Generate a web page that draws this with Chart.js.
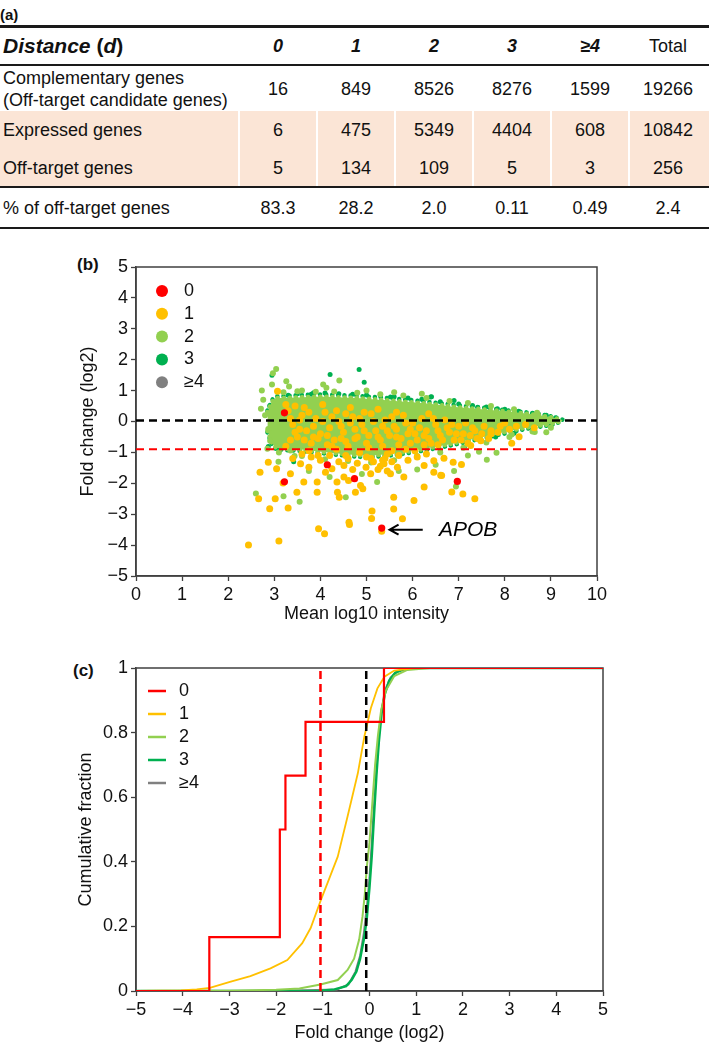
<!DOCTYPE html>
<html>
<head>
<meta charset="utf-8">
<script src="https://cdn.jsdelivr.net/npm/chart.js@4.4.0/dist/chart.umd.min.js"></script>
<style>
  body { margin: 0; background: #fff; font-family: "Liberation Sans", Arial, sans-serif; color: #111; }
  #page { position: relative; width: 709px; height: 1044px; overflow: hidden; }
  .t { position: absolute; white-space: nowrap; font-size: 18px; line-height: 22px; }
  .c { transform: translate(-50%, -50%); }
  .l { transform: translateY(-50%); }
  .hl { position: absolute; left: 0; width: 709px; background: #1a1a1a; }
  .panel { position: absolute; font-weight: bold; font-size: 17px; transform: translateY(-50%); }
  canvas { position: absolute; left: 0; }
</style>
</head>
<body>
<div id="page">
  <div class="panel" style="left:0;top:14px;font-size:15px">(a)</div>
  <div class="panel" style="left:77px;top:265px">(b)</div>
  <div class="panel" style="left:73px;top:671px">(c)</div>
  <canvas id="maPlot" width="709" height="390" style="top:240px"></canvas>
  <canvas id="cdfPlot" width="709" height="404" style="top:640px"></canvas>
</div>
<script>
// ---- table (a) ----
const distLabels = ['0', '1', '2', '3', '≥4', 'Total'];
const complementaryGenes = [16, 849, 8526, 8276, 1599, 19266];
const expressedGenes = [6, 475, 5349, 4404, 608, 10842];
const offTargetGenes = [5, 134, 109, 5, 3, 256];
const offTargetPercent = ['83.3', '28.2', '2.0', '0.11', '0.49', '2.4'];

// ---- scatter (b): [mean log10 intensity, log2 fold change] ----
const seriesNames = ['0', '1', '2', '3', '≥4'];
const seriesColors = ['#ff0000', '#ffc000', '#92d050', '#00b050', '#808080'];

const d0Points = [[3.22, 0.28], [3.22, -1.95], [4.15, -1.4], [4.74, -1.85], [5.33, -3.45], [6.97, -1.94]];

const d1Points = [
  [2.44, -4.0], [3.1, -3.87], [3.96, -3.47], [4.09, -3.63], [4.62, -3.26], [4.63, -3.33], [5.12, -2.9], [5.11, -3.14],
  [5.33, -3.55], [5.59, -2.83], [5.78, -3.15], [2.66, -2.5], [2.9, -2.82], [3.02, -2.5], [3.3, -2.8], [3.49, -2.29],
  [3.93, -2.29], [4.37, -2.29], [4.41, -2.45], [4.76, -2.29], [4.92, -2.18], [5.59, -2.45], [6.03, -2.56],
  [2.69, -1.64], [2.87, -1.32], [3.19, -1.99], [3.64, -1.96], [3.93, -1.96], [4.51, -1.8], [4.11, -1.64], [4.36, -1.96],
  [4.61, -1.91], [4.87, -2.07], [5.09, -1.69], [5.52, -1.69], [5.81, -1.8], [6.25, -2.12], [6.61, -1.74],
  [3.05, -1.53], [3.35, -1.69], [3.57, -1.37], [3.75, -1.48], [4.25, -1.53], [4.51, -1.42], [4.99, -1.48], [5.38, -1.37],
  [5.67, -1.48], [6.25, -1.42], [6.46, -1.64], [7.35, -2.5], [6.85, -2.28], [7.09, -2.35], [6.63, -1.75], [7.06, -1.39],
  [6.88, -1.32], [7.26, -0.78], [7.48, -0.62], [8.15, -0.7], [8.31, -0.49], [7.7, -0.4], [8.64, -0.2], [6.46, -1.27], [6.68, -1.19],
  [3.8, -1.15], [4.0, -1.25], [4.2, -1.1], [4.4, -1.3], [4.6, -1.2], [4.8, -1.35], [5.0, -1.15], [5.15, -1.3], [5.3, -1.45],
  [5.4, -1.2], [5.55, -1.3], [5.7, -1.1], [5.9, -1.25], [6.1, -1.15], [6.3, -1.05], [5.25, -1.55], [4.7, -1.55], [5.45, -1.6],
  [3.6, -1.05], [3.4, -1.2], [3.07, 0.98], [3.25, 0.55],
  [3.3, 0.35], [3.4, -0.1], [3.5, -0.5], [3.6, 0.2], [3.7, -0.3], [3.8, -0.7], [3.9, 0.1], [4.0, -0.4], [4.1, 0.3], [4.2, -0.2],
  [4.3, -0.6], [4.4, 0.0], [4.5, -0.35], [4.6, -0.8], [4.7, 0.15], [4.8, -0.5], [4.9, -0.1], [5.0, -0.7], [5.1, 0.25], [5.2, -0.3],
  [5.3, -0.6], [5.4, 0.05], [5.5, -0.45], [5.6, -0.15], [5.7, -0.75], [5.8, 0.2], [5.9, -0.4], [6.0, -0.05], [6.1, -0.6], [6.2, 0.1],
  [6.3, -0.3], [6.4, -0.7], [6.5, -0.1], [6.6, -0.45], [6.7, 0.05], [6.8, -0.35], [6.9, -0.6], [7.0, -0.15], [7.1, -0.4], [7.2, -0.7],
  [7.3, -0.2], [7.5, -0.4], [7.7, -0.3], [7.9, -0.15], [8.1, -0.25], [3.25, -0.8], [3.45, 0.5], [4.05, 0.55], [4.65, 0.45], [5.25, 0.4],
  [5.85, -0.9], [4.35, -0.9], [4.85, -1.0], [5.45, -1.05], [6.05, -0.95], [3.75, -0.95], [5.1, -1.2], [5.35, -1.25], [5.55, -0.95],
  [4.55, -1.1], [3.95, -1.1], [3.55, -0.25], [3.85, -0.5], [4.15, -0.75], [4.45, -0.55], [4.75, -0.25], [5.05, -0.45], [5.35, -0.15],
  [5.65, -0.5], [5.95, -0.7], [6.25, -0.45], [6.55, -0.75], [6.85, -0.1], [4.25, 0.15], [4.95, 0.3], [5.65, 0.3], [6.35, 0.25],
  [3.65, 0.45], [4.55, 0.25], [3.35, -0.6], [7.4, -0.55],
  [3.35, 0.1], [3.45, -0.35], [3.55, 0.05], [3.65, -0.6], [3.75, 0.3], [3.85, -0.15], [3.95, -0.55], [4.05, 0.0], [4.15, -0.45],
  [4.25, -0.8], [4.35, 0.35], [4.45, -0.15], [4.55, -0.65], [4.65, -0.05], [4.75, -0.55], [4.85, 0.1], [4.95, -0.3], [5.05, -0.85],
  [5.15, 0.0], [5.25, -0.5], [5.35, -0.8], [5.45, -0.3], [5.55, 0.15], [5.65, -0.25], [5.75, -0.55], [5.85, -0.05], [5.95, -0.25],
  [6.05, -0.4], [6.15, -0.2], [6.25, -0.75], [6.35, -0.55], [6.45, 0.1], [6.55, -0.3], [6.65, -0.6], [6.75, -0.2], [6.95, -0.4],
  [7.05, -0.6], [7.15, -0.05], [7.25, -0.45], [7.35, -0.3], [7.55, -0.15], [7.65, -0.55], [7.85, -0.35], [8.0, -0.05], [8.25, -0.15], [8.45, -0.1]
];

const d2Points = [
  [3.04, 1.7], [2.97, 1.56], [2.73, 1.0], [3.26, 1.3], [3.32, 1.13], [4.06, 1.2], [4.13, 1.09], [4.41, 1.33], [2.71, 0.41],
  [2.8, 0.2], [2.87, -0.24], [2.91, -0.62], [2.85, -0.88], [2.6, -2.33], [3.2, -2.42], [3.44, -1.12], [3.35, -0.94],
  [5.23, -1.96], [3.09, -1.3], [7.61, -1.24], [7.44, -0.98], [7.82, -1.01], [8.15, -0.42], [8.65, -0.34], [6.5, -1.4],
  [6.94, -2.1], [2.76, 0.7], [2.95, 1.2], [3.6, 1.0], [5.0, 1.0], [5.6, 0.95], [6.2, 0.9], [3.75, -1.6], [4.2, -1.8],
  [4.9, -1.7], [5.7, -1.6], [6.1, -1.55], [4.55, -2.45], [3.55, -2.6], [6.9, -1.6], [7.2, -1.1], [8.9, -0.35],
  [3.2, 0.95], [3.5, 0.98], [3.9, 0.96], [4.3, 0.97], [4.8, 0.93], [5.3, 0.88], [5.8, 0.84], [6.3, 0.76], [6.8, 0.66],
  [7.2, 0.6], [7.7, 0.5], [8.2, 0.4], [8.7, 0.28], [3.1, -1.0], [3.6, -1.12], [4.1, -1.22], [4.6, -1.28], [5.1, -1.33],
  [5.6, -1.25], [6.1, -1.12], [6.6, -1.0], [7.1, -0.85], [7.6, -0.68], [8.1, -0.5], [8.6, -0.32], [9.0, -0.2]
];

const d3Points = [
  [4.21, 1.52], [4.84, 1.68], [2.95, 1.5], [4.95, 1.27], [3.85, 0.93], [5.52, 0.79], [6.39, 0.79], [3.42, -1.3], [2.87, -0.81],
  [6.9, 0.68], [6.41, 0.8], [7.41, 0.46], [7.84, 0.41], [8.71, 0.16], [7.12, -0.83], [6.6, -0.95],
  [3.5, 0.9], [3.8, 0.88], [4.1, 0.92], [4.4, 0.9], [4.7, 0.88], [5.0, 0.86], [5.3, 0.84], [5.6, 0.8], [5.9, 0.76], [6.2, 0.72],
  [6.6, 0.64], [7.0, 0.57], [7.3, 0.52], [7.6, 0.47], [8.0, 0.4], [8.3, 0.33], [8.6, 0.27], [8.9, 0.2], [9.1, 0.12],
  [7.8, -0.5], [8.2, -0.38], [8.6, -0.26], [9.0, -0.12], [3.3, 0.85], [3.1, -0.9], [2.9, 0.5], [3.0, -0.4]
];

const d4Points = [[4.5, 0.1], [5.5, -0.1], [6.5, 0.0], [7.5, 0.05]];

// dense core of the cloud, read as upper / lower envelopes
const cloudX = [2.85, 3.0, 3.2, 3.5, 4.0, 4.5, 5.0, 5.5, 6.0, 6.5, 7.0, 7.5, 8.0, 8.5, 9.0, 9.25];
const cloudTop = [0.3, 0.72, 0.76, 0.78, 0.8, 0.78, 0.74, 0.68, 0.62, 0.55, 0.46, 0.4, 0.33, 0.25, 0.14, 0.05];
const cloudBottom = [-0.3, -0.8, -0.88, -0.9, -0.98, -1.05, -1.1, -1.05, -0.95, -0.82, -0.67, -0.5, -0.34, -0.19, -0.08, 0.02];
const fringeTop = [0.35, 0.78, 0.82, 0.85, 0.87, 0.85, 0.81, 0.75, 0.69, 0.61, 0.52, 0.45, 0.37, 0.29, 0.17, 0.06];
const fringeBottom = [-0.35, -0.85, -0.92, -0.95, -1.02, -1.1, -1.15, -1.1, -1.0, -0.87, -0.72, -0.55, -0.39, -0.23, -0.11, 0.01];

const maRefLines = [0.03, -0.9];          // black, red
const apobPoint = [5.33, -3.45];

// ---- cumulative (c) ----
const cdf0X = [-5, -3.43, -1.92, -1.8, -1.37, 0.31, 5];
const cdf0Y = [0, 0.167, 0.5, 0.667, 0.833, 1, 1];
const cdf1X = [-5, -4.04, -3.7, -3.42, -2.97, -2.55, -2.12, -1.76, -1.44, -1.26, -1.04, -0.9, -0.68, -0.47, -0.25, -0.11, 0.03, 0.17, 0.32, 0.53, 0.96, 5];
const cdf1Y = [0, 0.002, 0.005, 0.01, 0.029, 0.046, 0.07, 0.096, 0.148, 0.195, 0.282, 0.334, 0.416, 0.54, 0.674, 0.788, 0.876, 0.937, 0.973, 0.992, 1, 1];
const cdf2X = [-5, -4, -3, -2, -1.5, -1.05, -0.68, -0.47, -0.33, -0.22, -0.15, -0.1, -0.06, 0.0, 0.06, 0.12, 0.18, 0.25, 0.35, 0.53, 0.81, 1.3, 5];
const cdf2Y = [0, 0.0005, 0.001, 0.004, 0.008, 0.02, 0.034, 0.065, 0.1, 0.16, 0.23, 0.3, 0.38, 0.46, 0.58, 0.7, 0.79, 0.87, 0.93, 0.975, 0.994, 1, 1];
const cdf3X = [-5, -2, -1.05, -0.75, -0.5, -0.38, -0.28, -0.2, -0.12, -0.06, 0.0, 0.05, 0.1, 0.15, 0.2, 0.26, 0.33, 0.42, 0.55, 0.75, 1.1, 5];
const cdf3Y = [0, 0, 0.001, 0.005, 0.015, 0.035, 0.06, 0.1, 0.16, 0.22, 0.32, 0.42, 0.55, 0.67, 0.77, 0.86, 0.92, 0.96, 0.985, 0.997, 1, 1];
const cdf4X = [-5, -2, -0.7, -0.45, -0.3, -0.2, -0.12, -0.05, 0.0, 0.05, 0.1, 0.15, 0.2, 0.26, 0.33, 0.45, 0.6, 0.9, 5];
const cdf4Y = [0, 0, 0.005, 0.02, 0.06, 0.11, 0.18, 0.27, 0.35, 0.46, 0.58, 0.69, 0.79, 0.87, 0.93, 0.97, 0.99, 1, 1];
const cdfRefLines = [-0.07, -1.05];       // black, red

const FONT = '"Liberation Sans", Arial, sans-serif';
const AXIS = '#404040';

// ---- build the table ----
const page = document.getElementById('page');
function addText(html, x, y, cls, extra) {
  const d = document.createElement('div');
  d.className = 't ' + cls;
  d.style.left = x + 'px';
  d.style.top = y + 'px';
  if (extra) d.style.cssText += extra;
  d.innerHTML = html;
  page.appendChild(d);
}
const band = document.createElement('div');
band.style.cssText = 'position:absolute;left:0;top:111px;width:709px;height:75px;background:#fbe5d6';
page.appendChild(band);
[239, 317, 395, 473, 551, 629].forEach(x => {
  const s = document.createElement('div');
  s.style.cssText = `position:absolute;left:${x - 1}px;top:111px;width:2px;height:75px;background:#fff`;
  page.appendChild(s);
});
[[25, 2.5], [64, 2], [186, 2], [227, 2]].forEach(([y, h]) => {
  const l = document.createElement('div');
  l.className = 'hl';
  l.style.top = y + 'px';
  l.style.height = h + 'px';
  page.appendChild(l);
});
const colX = distLabels.map((_, i) => 278 + 78 * i);
addText('<b><i>Distance</i> (<i>d</i>)</b>', 3, 46, 'l', 'font-size:21px');
distLabels.forEach((lab, i) => {
  addText(i < 5 ? '<b><i>' + lab + '</i></b>' : lab, colX[i], 46, 'c');
});
addText('Complementary genes<br>(Off-target candidate genes)', 3, 89, 'l');
addText('Expressed genes', 3, 130, 'l');
addText('Off-target genes', 3, 168, 'l');
addText('% of off-target genes', 3, 208, 'l');
complementaryGenes.forEach((v, i) => addText(v, colX[i], 89, 'c'));
expressedGenes.forEach((v, i) => addText(v, colX[i], 130, 'c'));
offTargetGenes.forEach((v, i) => addText(v, colX[i], 168, 'c'));
offTargetPercent.forEach((v, i) => addText(v, colX[i], 208, 'c'));

// ---- shared chart helpers ----
const toXY = pts => pts.map(p => ({ x: p[0], y: p[1] }));
const zipXY = (xs, ys) => xs.map((x, i) => ({ x: x, y: ys[i] }));
const minus = v => String(v).replace('-', '\u2212');

// plot box drawn under the data so the lines lying on it stay coloured
const frame = {
  id: 'frame',
  beforeDatasetsDraw(chart) {
    const a = chart.chartArea, ctx = chart.ctx;
    ctx.save();
    ctx.strokeStyle = AXIS;
    ctx.lineWidth = 1.5;
    ctx.strokeRect(a.left, a.top, a.right - a.left, a.bottom - a.top);
    ctx.restore();
  }
};

function axis(min, max, step, title, titlePad, fit, tickCb) {
  return {
    type: 'linear', min: min, max: max,
    ticks: { stepSize: step, color: '#111', font: { size: 18, family: FONT }, padding: 3, callback: tickCb },
    grid: { drawOnChartArea: false, tickLength: 5, tickColor: AXIS, tickWidth: 1.3 },
    border: { color: AXIS, width: 1.5 },
    title: { display: true, text: title, color: '#111', font: { size: 18, family: FONT }, padding: titlePad },
    afterFit: fit
  };
}

function pointSet(pts, color, r, order) {
  return { type: 'scatter', data: toXY(pts), backgroundColor: color, borderColor: color,
           pointRadius: r, pointBorderWidth: 0, order: order };
}
// filled core (no outline) and a dotted fringe along an envelope
function envelope(xs, ys, color, fill, order) {
  return { type: 'line', data: zipXY(xs, ys), borderColor: color, backgroundColor: color, borderWidth: 0,
           pointRadius: 0, tension: 0.35, fill: fill, order: order };
}
function fringe(xs, ys, color, order) {
  return { type: 'line', data: zipXY(xs, ys), borderColor: color, borderWidth: 4.5, borderDash: [0.1, 6],
           borderCapStyle: 'round', pointRadius: 0, tension: 0.35, fill: false, order: order };
}
function hLine(y, x0, x1, color, w) {
  return { type: 'line', data: [{ x: x0, y: y }, { x: x1, y: y }], borderColor: color, borderWidth: w,
           borderDash: [8, 5], pointRadius: 0, fill: false, order: 1 };
}
function vLine(x, color, w) {
  return { type: 'line', data: [{ x: x, y: 0 }, { x: x, y: 1 }], borderColor: color, borderWidth: w,
           borderDash: [8, 5], pointRadius: 0, fill: false, order: 1 };
}

// ---- (b) MA plot ----
const maLegend = {
  id: 'maLegend',
  afterDraw(chart) {
    const a = chart.chartArea, ctx = chart.ctx;
    ctx.save();
    ctx.font = '18px ' + FONT;
    ctx.textBaseline = 'middle';
    seriesNames.forEach((n, i) => {
      const y = a.top + 24 + i * 22.8;
      ctx.fillStyle = seriesColors[i];
      ctx.beginPath();
      ctx.arc(a.left + 26, y, 6, 0, Math.PI * 2);
      ctx.fill();
      ctx.fillStyle = '#111';
      ctx.fillText(n, a.left + 48, y);
    });
    ctx.restore();
  }
};
const apobNote = {
  id: 'apobNote',
  afterDatasetsDraw(chart) {
    const xs = chart.scales.x, ys = chart.scales.y, ctx = chart.ctx;
    const y = ys.getPixelForValue(apobPoint[1] - 0.05);
    const tip = xs.getPixelForValue(apobPoint[0] + 0.17);
    const tail = xs.getPixelForValue(apobPoint[0] + 0.89);
    ctx.save();
    ctx.strokeStyle = '#000';
    ctx.lineWidth = 2;
    ctx.beginPath();
    ctx.moveTo(tail, y); ctx.lineTo(tip, y);
    ctx.moveTo(tip + 9, y - 5); ctx.lineTo(tip, y); ctx.lineTo(tip + 9, y + 5);
    ctx.stroke();
    ctx.fillStyle = '#000';
    ctx.font = 'italic 21px ' + FONT;
    ctx.textBaseline = 'middle';
    ctx.fillText('APOB', xs.getPixelForValue(apobPoint[0] + 1.24), y + 1);
    ctx.restore();
  }
};

new Chart(document.getElementById('maPlot'), {
  type: 'scatter',
  data: {
    datasets: [
      pointSet(d0Points, seriesColors[0], 3.6, 0),
      hLine(maRefLines[0], 0, 10, '#000', 2.5),
      hLine(maRefLines[1], 0, 10, '#ff0000', 2),
      pointSet(d1Points, seriesColors[1], 3.5, 2),
      pointSet(d2Points, seriesColors[2], 3, 3),
      envelope(cloudX, cloudTop, seriesColors[2], '+1', 4),
      envelope(cloudX, cloudBottom, seriesColors[2], false, 4),
      fringe(cloudX, cloudTop, seriesColors[2], 4),
      fringe(cloudX, cloudBottom, seriesColors[2], 4),
      pointSet(d3Points, seriesColors[3], 2.5, 5),
      fringe(cloudX, fringeTop, seriesColors[3], 6),
      fringe(cloudX, fringeBottom, seriesColors[3], 6),
      pointSet(d4Points, seriesColors[4], 3, 7)
    ]
  },
  options: {
    responsive: false, animation: false, devicePixelRatio: 1,
    layout: { padding: { top: 27, right: 112, left: 0, bottom: 0 } },
    plugins: { legend: { display: false }, tooltip: { enabled: false } },
    scales: {
      x: axis(0, 10, 1, 'Mean log10 intensity', { top: 0, bottom: 5 }, s => { s.height = 54; }, minus),
      y: axis(-5, 5, 1, 'Fold change (log2)', { top: 77, bottom: 0 }, s => { s.width = 136; }, minus)
    }
  },
  plugins: [frame, maLegend, apobNote]
});

// ---- (c) cumulative fraction ----
const cdfLegend = {
  id: 'cdfLegend',
  afterDraw(chart) {
    const a = chart.chartArea, ctx = chart.ctx;
    ctx.save();
    ctx.font = '18px ' + FONT;
    ctx.textBaseline = 'middle';
    seriesNames.forEach((n, i) => {
      const y = a.top + 23 + i * 23;
      ctx.strokeStyle = seriesColors[i];
      ctx.lineWidth = 2.5;
      ctx.beginPath();
      ctx.moveTo(a.left + 12, y); ctx.lineTo(a.left + 30, y);
      ctx.stroke();
      ctx.fillStyle = '#111';
      ctx.fillText(n, a.left + 43, y);
    });
    ctx.restore();
  }
};
function cdfLine(xs, ys, color, w, order, stepped) {
  return { type: 'line', data: zipXY(xs, ys), borderColor: color, borderWidth: w, pointRadius: 0,
           fill: false, tension: 0, stepped: stepped || false, order: order };
}

new Chart(document.getElementById('cdfPlot'), {
  type: 'scatter',
  data: {
    datasets: [
      cdfLine(cdf0X, cdf0Y, seriesColors[0], 2.2, 0, 'before'),
      vLine(cdfRefLines[0], '#000', 2.5),
      vLine(cdfRefLines[1], '#ff0000', 2.5),
      cdfLine(cdf1X, cdf1Y, seriesColors[1], 1.8, 2),
      cdfLine(cdf2X, cdf2Y, seriesColors[2], 2, 3),
      cdfLine(cdf3X, cdf3Y, seriesColors[3], 2.4, 4),
      cdfLine(cdf4X, cdf4Y, seriesColors[4], 2, 5)
    ]
  },
  options: {
    responsive: false, animation: false, devicePixelRatio: 1,
    layout: { padding: { top: 28, right: 106, left: 0, bottom: 0 } },
    plugins: { legend: { display: false }, tooltip: { enabled: false } },
    scales: {
      x: axis(-5, 5, 1, 'Fold change (log2)', { top: 0, bottom: 0 }, s => { s.height = 53; }, minus),
      y: axis(0, 1, 0.2, 'Cumulative fraction', { top: 75, bottom: 0 }, s => { s.width = 136; })
    }
  },
  plugins: [frame, cdfLegend]
});
</script>
</body>
</html>
